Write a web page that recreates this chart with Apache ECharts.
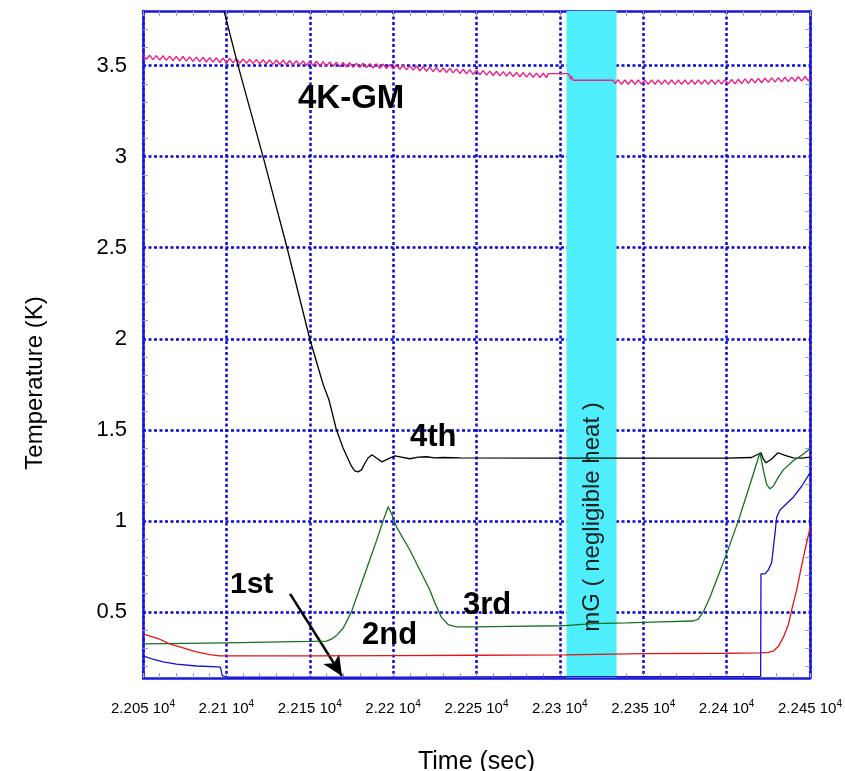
<!DOCTYPE html>
<html><head><meta charset="utf-8">
<script src="https://cdn.jsdelivr.net/npm/echarts@6/dist/echarts.min.js"></script>
<style>html,body{margin:0;padding:0;background:#fff}#c{width:845px;height:771px}</style>
</head><body><div id="c"></div>
<script>
const FONT = '"Liberation Sans", Arial, Helvetica, sans-serif';

// axis ticks
const xMin = 22050, xMax = 22450, xStep = 50;
const yMin = 0.137, yMax = 3.8;
const yMajor = [0.5, 1, 1.5, 2, 2.5, 3, 3.5];
const yMinor = [0.2,0.3,0.4,0.6,0.7,0.8,0.9,1.1,1.2,1.3,1.4,1.6,1.7,1.8,1.9,2.1,2.2,2.3,2.4,2.6,2.7,2.8,2.9,3.1,3.2,3.3,3.4,3.6,3.7];

// mG (negligible heat) interval
const mgBand = [22304, 22334];
// arrow for "1st" label
const arrowFrom = [22138.2, 0.599];
const arrowTo = [22169.3, 0.148];

// 4K-GM (pink)
const gm4k = [
[22050,3.558],[22052,3.534],[22054,3.557],[22056,3.533],[22058,3.555],
[22060,3.530],[22062,3.554],[22064,3.529],[22066,3.552],[22068,3.528],
[22070,3.551],[22072,3.526],[22074,3.550],[22076,3.525],[22078,3.548],
[22080,3.523],[22082,3.547],[22084,3.522],[22086,3.546],[22088,3.520],
[22090,3.544],[22092,3.519],[22094,3.543],[22096,3.517],[22098,3.541],
[22100,3.516],[22102,3.540],[22104,3.515],[22106,3.538],[22108,3.513],
[22110,3.537],[22112,3.512],[22114,3.536],[22116,3.511],[22118,3.534],
[22120,3.510],[22122,3.533],[22124,3.509],[22126,3.532],[22128,3.507],
[22130,3.531],[22132,3.506],[22134,3.530],[22136,3.505],[22138,3.528],
[22140,3.504],[22142,3.527],[22144,3.503],[22146,3.526],[22148,3.501],
[22150,3.525],[22152,3.500],[22154,3.524],[22156,3.498],[22158,3.522],
[22160,3.497],[22162,3.520],[22164,3.496],[22166,3.519],[22168,3.494],
[22170,3.517],[22172,3.492],[22174,3.516],[22176,3.491],[22178,3.514],
[22180,3.490],[22182,3.513],[22184,3.489],[22186,3.511],[22188,3.487],
[22190,3.510],[22192,3.485],[22194,3.508],[22196,3.484],[22198,3.506],
[22200,3.482],[22202,3.505],[22204,3.480],[22206,3.502],[22208,3.477],
[22210,3.500],[22212,3.475],[22214,3.498],[22216,3.472],[22218,3.494],
[22220,3.469],[22222,3.492],[22224,3.467],[22226,3.490],[22228,3.464],
[22230,3.487],[22232,3.462],[22234,3.485],[22236,3.460],[22238,3.482],
[22240,3.457],[22242,3.480],[22244,3.455],[22246,3.478],[22248,3.452],
[22250,3.475],[22252,3.450],[22254,3.473],[22256,3.448],[22258,3.470],
[22260,3.446],[22262,3.469],[22264,3.444],[22266,3.467],[22268,3.442],
[22270,3.465],[22272,3.440],[22274,3.463],[22276,3.439],[22278,3.462],
[22280,3.437],[22282,3.460],[22284,3.436],[22286,3.459],[22288,3.435],
[22290,3.458],[22292,3.434],
[22293,3.456],[22305,3.456],[22306,3.44],[22306.5,3.425],[22307,3.44],[22308,3.42],[22332,3.42],
[22333,3.402],[22335,3.422],[22337,3.398],[22339,3.421],[22341,3.398],[22343,3.421],[22345,3.398],[22347,3.421],[22349,3.398],
[22351,3.421],[22353,3.398],[22355,3.422],[22357,3.398],[22359,3.421],[22361,3.397],[22363,3.421],[22365,3.397],[22367,3.421],[22369,3.397],
[22371,3.421],[22373,3.397],[22375,3.421],[22377,3.397],[22379,3.421],[22381,3.398],[22383,3.422],[22385,3.398],[22387,3.422],[22389,3.398],
[22391,3.422],[22393,3.398],[22395,3.422],[22397,3.399],[22399,3.423],[22401,3.400],[22403,3.424],[22405,3.400],[22407,3.425],[22409,3.401],
[22411,3.427],[22413,3.403],[22415,3.428],[22417,3.405],[22419,3.430],[22421,3.406],[22423,3.431],[22425,3.408],[22427,3.433],[22429,3.409],
[22431,3.434],[22433,3.411],[22435,3.436],[22437,3.412],[22439,3.437],[22441,3.414],[22443,3.439],[22445,3.415],[22447,3.440],[22449,3.417],[22450,3.430]
];

// 4th stage (black)
const fourth = [
[22098.6,3.80],[22107,3.5],[22122,3.0],[22136.4,2.5],[22150,2.0],[22158,1.75],[22161.5,1.665],
[22166,1.5],[22170,1.40],[22175,1.30],[22177,1.275],[22179,1.269],[22181,1.28],[22183,1.315],
[22185,1.345],[22187.3,1.363],[22190,1.345],[22193.3,1.324],[22197,1.34],[22201,1.357],[22205,1.35],
[22210,1.341],[22215,1.35],[22220,1.352],[22225,1.346],[22230,1.348],[22240,1.346],[22300,1.345],
[22350,1.345],[22400,1.345],[22415,1.348],[22420.6,1.374],[22422,1.34],[22423.6,1.319],[22427,1.34],
[22430.8,1.374],[22435,1.36],[22440,1.346],[22445,1.345],[22450,1.35]
];

// 3rd stage (green)
const third = [
[22050,0.324],[22100,0.330],[22150,0.338],[22160,0.34],[22163,0.35],[22166,0.37],[22170,0.41],
[22175,0.50],[22180,0.63],[22185,0.76],[22190,0.89],[22194,1.0],[22197,1.077],[22200,1.02],
[22202,0.967],[22210,0.84],[22216,0.73],[22222,0.62],[22225,0.55],[22229,0.47],[22233,0.43],
[22238,0.418],[22250,0.418],[22270,0.42],[22300,0.424],[22303,0.425],[22304,0.432],[22320,0.436],
[22340,0.44],[22360,0.445],[22380,0.45],[22383,0.46],[22386,0.50],[22390,0.58],[22395,0.70],
[22400,0.82],[22407,1.0],[22414,1.2],[22420,1.374],[22422,1.28],[22424,1.2],[22426,1.176],
[22428,1.19],[22431,1.24],[22434,1.28],[22440,1.33],[22445,1.36],[22450,1.396]
];

// 2nd stage (red)
const second = [
[22050,0.379],[22060,0.35],[22066,0.324],[22075,0.30],[22082,0.28],[22090,0.265],[22096,0.258],
[22150,0.258],[22200,0.26],[22250,0.262],[22303,0.264],[22304,0.27],[22350,0.271],[22400,0.273],
[22420,0.275],[22425,0.278],[22428,0.285],[22431,0.31],[22434,0.36],[22437,0.43],[22439,0.51],
[22442,0.62],[22444,0.71],[22447,0.84],[22450,0.96]
];

// 1st stage (blue)
const first = [
[22050,0.258],[22056,0.24],[22062,0.225],[22070,0.213],[22082,0.203],[22095,0.198],[22096.5,0.196],
[22097.5,0.15],[22100,0.142],[22200,0.142],[22250,0.143],[22300,0.144],[22350,0.144],[22420.4,0.145],
[22420.6,0.709],[22423,0.709],[22425,0.73],[22427,0.77],[22429,0.93],[22430,1.02],[22432,1.06],
[22434,1.077],[22440,1.13],[22445,1.19],[22450,1.264]
];

const AXIS_BLUE = '#1717d8';
const GRID_BLUE = '#0a0ad6';
const MINOR = '#9a9af0';

const chart = echarts.init(document.getElementById('c'), null, {renderer: 'canvas'});

function lineSeries(name, data, color, extra) {
  return Object.assign({
    type: 'line', name, data, symbol: 'none', showSymbol: false,
    lineStyle: {color, width: 1.3}, z: 5, silent: true, clip: true
  }, extra || {});
}

const option = {
  animation: false,
  backgroundColor: '#fff',
  textStyle: {fontFamily: FONT},
  grid: {left: 143, right: 35, top: 11, bottom: 93, outerBoundsMode: 'none', containLabel: false},
  xAxis: [{
    type: 'value', min: xMin, max: xMax, interval: xStep, position: 'bottom',
    name: 'Time (sec)', nameLocation: 'middle', nameGap: 72,
    nameTextStyle: {fontSize: 25, color: '#000', fontFamily: FONT},
    axisLine: {show: true, onZero: false, lineStyle: {color: AXIS_BLUE, width: 2.5}},
    axisTick: {show: true, inside: true, length: 5, lineStyle: {color: MINOR, width: 1}},
    minorTick: {show: true, splitNumber: 5, length: 5, lineStyle: {color: MINOR, width: 1}},
    splitLine: {show: true, lineStyle: {color: GRID_BLUE, width: 2.5, type: [3, 2.5]}},
    axisLabel: {
      margin: 21, color: '#000', fontFamily: FONT,
      formatter: v => '{n|' + parseFloat((v / 10000).toFixed(4)) + ' 10}{s|4}',
      rich: {
        n: {fontSize: 15, lineHeight: 20, color: '#000', fontFamily: FONT},
        s: {fontSize: 10, lineHeight: 10, verticalAlign: 'top', color: '#000', fontFamily: FONT}
      }
    }
  }, {
    type: 'value', min: xMin, max: xMax, interval: xStep, position: 'top',
    axisLine: {show: true, onZero: false, lineStyle: {color: AXIS_BLUE, width: 2.5}},
    axisTick: {show: true, inside: true, length: 5, lineStyle: {color: MINOR, width: 1}},
    minorTick: {show: true, splitNumber: 5, length: 5, lineStyle: {color: MINOR, width: 1}},
    splitLine: {show: false}, axisLabel: {show: false}
  }],
  yAxis: [{
    type: 'value', min: yMin, max: yMax, position: 'left',
    axisLine: {show: true, onZero: false, lineStyle: {color: AXIS_BLUE, width: 2.5}},
    axisTick: {show: false, customValues: yMajor},
    axisLabel: {customValues: yMajor, fontSize: 22, color: '#000', margin: 16, fontFamily: FONT},
    splitLine: {show: true, lineStyle: {color: GRID_BLUE, width: 2.5, type: [3, 2.5]}}
  }, {
    type: 'value', min: yMin, max: yMax, position: 'left',
    axisLine: {show: false},
    axisTick: {show: true, inside: true, length: 5, customValues: yMinor, lineStyle: {color: MINOR, width: 1}},
    axisLabel: {show: false}, splitLine: {show: false}
  }, {
    type: 'value', min: yMin, max: yMax, position: 'right',
    axisLine: {show: true, onZero: false, lineStyle: {color: AXIS_BLUE, width: 2.5}},
    axisTick: {show: true, inside: true, length: 5, customValues: yMinor, lineStyle: {color: MINOR, width: 1}},
    axisLabel: {show: false}, splitLine: {show: false}
  }],
  series: [
    {
      type: 'line', data: [], z: 2, silent: true,
      markArea: {silent: true, itemStyle: {color: '#4eeefc', opacity: 1},
        data: [[{xAxis: mgBand[0]}, {xAxis: mgBand[1]}]]}
    },
    lineSeries('4K-GM', gm4k, '#ec2185', {lineStyle: {color: '#ec2185', width: 1.4}}),
    lineSeries('4th', fourth, '#000000'),
    lineSeries('3rd', third, '#17701f'),
    lineSeries('2nd', second, '#e31414'),
    lineSeries('1st', first, '#1212d4', {
      markLine: {
        silent: true, symbol: ['none', 'arrow'], symbolSize: [14, 20],
        lineStyle: {color: '#000', width: 2.5, type: 'solid'}, label: {show: false},
        data: [[{coord: arrowFrom}, {coord: arrowTo}]]
      }
    })
  ],
  graphic: [
    {type: 'text', x: 35, y: 383, rotation: Math.PI / 2, z: 100,
      style: {text: 'Temperature (K)', font: '24px ' + FONT, fill: '#000', align: 'center', verticalAlign: 'middle'}},
    {type: 'text', left: 298, top: 82, z: 100, style: {text: '4K-GM', font: 'bold 33px ' + FONT, fill: '#000'}},
    {type: 'text', left: 410, top: 422, z: 100, style: {text: '4th', font: 'bold 31px ' + FONT, fill: '#000'}},
    {type: 'text', left: 230, top: 570, z: 100, style: {text: '1st', font: 'bold 30px ' + FONT, fill: '#000'}},
    {type: 'text', left: 362, top: 620, z: 100, style: {text: '2nd', font: 'bold 31px ' + FONT, fill: '#000'}},
    {type: 'text', left: 463, top: 590, z: 100, style: {text: '3rd', font: 'bold 31px ' + FONT, fill: '#000'}},
    {type: 'text', x: 592, y: 517, rotation: Math.PI / 2, z: 100,
      style: {text: 'mG ( negligible heat )', font: '24px ' + FONT, fill: '#222', align: 'center', verticalAlign: 'middle'}}
  ]
};
chart.setOption(option);
</script>
</body></html>
